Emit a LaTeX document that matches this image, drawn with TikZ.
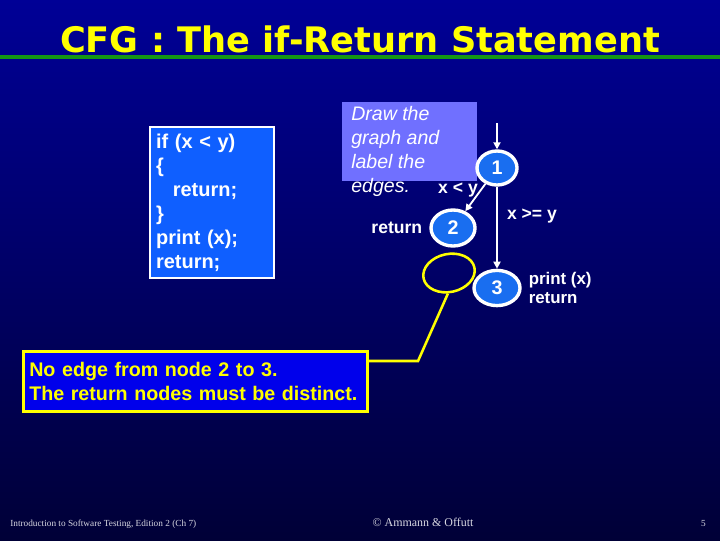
\documentclass[tikz,border=0pt]{standalone}
\usepackage{fontspec}
\setmainfont{Liberation Sans}
\newfontfamily\footfont{Liberation Serif}
\newfontfamily\titlefont{DejaVu Sans}
\usetikzlibrary{
    shapes.geometric,
    arrows.meta,
    positioning
}
\definecolor{slidetop}{RGB}{0,0,150}
\definecolor{slidebot}{RGB}{0,0,55}
\definecolor{titleyellow}{RGB}{255,255,0}
\definecolor{rulegreen}{RGB}{20,150,20}
\definecolor{codeblue}{RGB}{15,95,255}
\definecolor{nodeblue}{RGB}{25,110,240}
\definecolor{hintlilac}{RGB}{112,112,255}
\definecolor{noteblue}{RGB}{0,0,235}
\definecolor{footgray}{RGB}{215,215,225}
\tikzset{
    % Boxes
    codebox/.style={
        rectangle,
        draw=white,
        line width=1.5pt,
        fill=codeblue,
        anchor=north west,
        minimum width=3.1cm,
        minimum height=3.775cm,
        text width=2.8cm,
        align=left,
        text=white,
        font=\fontsize{14.2}{17}\selectfont\bfseries
    },
    hintbox/.style={
        rectangle,
        fill=hintlilac,
        anchor=north west,
        minimum width=3.375cm,
        minimum height=1.975cm
    },
    hinttext/.style={
        anchor=north west,
        align=left,
        text=white,
        inner sep=0pt,
        font=\fontsize{13.9}{17}\selectfont\itshape
    },
    notebox/.style={
        rectangle,
        draw=titleyellow,
        line width=1.8pt,
        fill=noteblue,
        anchor=north west,
        minimum width=8.6cm,
        minimum height=1.5cm,
        text width=8.3cm,
        align=left,
        text=titleyellow,
        font=\fontsize{14}{17}\selectfont\bfseries
    },
    % Graph nodes
    cfgnode/.style={
        ellipse,
        draw=white,
        line width=2.4pt,
        fill=nodeblue,
        inner sep=0pt,
        minimum width=1.1cm,
        minimum height=0.9cm,
        text=white,
        font=\fontsize{14}{16}\selectfont\bfseries
    },
    hilite/.style={
        ellipse,
        draw=titleyellow,
        line width=1.8pt,
        inner sep=0pt,
        minimum width=1.3cm,
        minimum height=0.95cm
    },
    % Labels
    lbl/.style={
        text=white,
        inner sep=0pt,
        font=\fontsize{12.5}{13.5}\selectfont\bfseries
    },
    footer/.style={
        text=footgray,
        inner sep=0pt,
        font=\footfont\fontsize{6.6}{7}\selectfont
    },
    % Arrows
    edge/.style={
        -{Triangle[width=5pt,length=5pt]},
        line width=1.3pt,
        draw=white
    },
    pointer/.style={
        line width=1.8pt,
        draw=titleyellow
    }
}

\begin{document}
\begin{tikzpicture}[x=0.025cm, y=-0.025cm]

    % Background
    \useasboundingbox (0,0) rectangle (720,540);
    \shade[top color=slidetop, bottom color=slidebot] (0,0) rectangle (720,540);

    % Title
    \node[anchor=base, text=titleyellow, inner sep=0pt,
          font=\titlefont\fontsize{25}{28}\selectfont\bfseries] (title) at (360,52)
          {CFG : The if-Return Statement};
    \draw[rulegreen, line width=0.1cm] (0,57) -- (720,57);

    % Source code
    \node[codebox] (code) at (149,126)
        {if (x < y)\\\{\\\hspace*{0.42cm}return;\\\}\\print (x);\\return;};

    % Exercise hint
    \node[hintbox] (hint) at (342,102) {};
    \node[hinttext] (hintlines) at (351,106) {Draw the\\graph and\\label the\\edges.};

    % Graph
    \coordinate (entry) at (497,123);
    \node[cfgnode, minimum width=1.0cm, minimum height=0.85cm] (n1) at (497,168) {1};
    \node[cfgnode, minimum width=1.1cm] (n2) at (453,228) {2};
    \node[cfgnode, minimum width=1.15cm, minimum height=0.88cm] (n3) at (497,288) {3};

    \draw[edge] (entry) -- (n1);
    \draw[edge] (n1) -- (n2);
    \draw[edge] (n1) -- (n3);

    \node[lbl] (ltlabel) at (458,190) {x < y};
    \node[lbl] (gelabel) at (532,216) {x >= y};
    \node[lbl, left=0.17cm of n2] (ret2) {return};
    \node[lbl, right=0.17cm of n3, align=left, font=\fontsize{12}{13.5}\selectfont\bfseries] (ret3)
        {print (x)\\return};

    % Missing edge remark
    \node[hilite, rotate=12] (circ) at (449,273) {};
    \node[notebox] (note) at (22,350)
        {No edge from node 2 to 3.\\The return nodes must be distinct.};
    \coordinate (bend) at (418,361);
    \draw[pointer] (circ.255) -- (bend) -- (bend -| note.east);

    % Footer
    \node[footer, anchor=base west] (book) at (10,526)
        {Introduction to Software Testing, Edition 2 (Ch 7)};
    \node[footer, anchor=base, font=\footfont\fontsize{8.5}{9}\selectfont] (authors) at (423,526)
        {\textcopyright{} Ammann \& Offutt};
    \node[footer, anchor=base east] (page) at (706,526) {5};

\end{tikzpicture}
\end{document}
